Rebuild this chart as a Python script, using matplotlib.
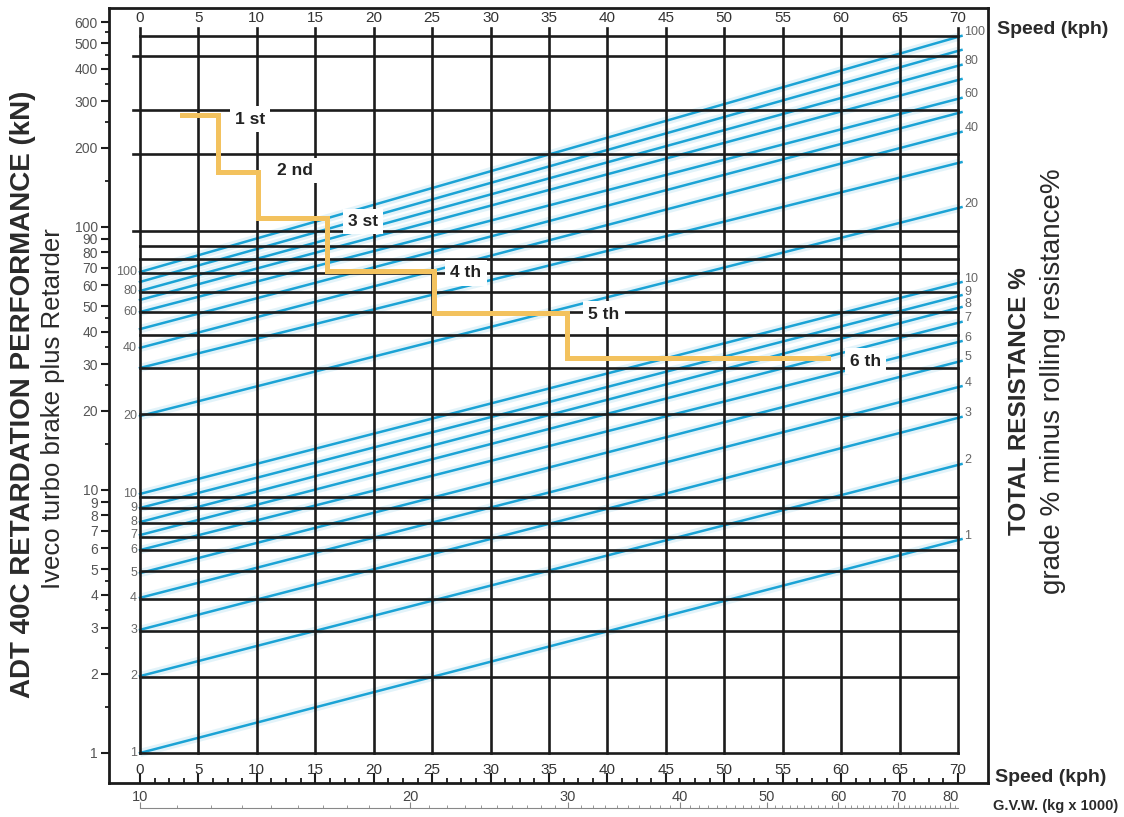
import numpy as np
import matplotlib.pyplot as plt
import matplotlib.transforms as mtransforms
from matplotlib.ticker import FixedLocator, NullFormatter

NARROW = ["Liberation Sans Narrow", "Liberation Sans", "DejaVu Sans"]
plt.rcParams["font.family"] = ["Liberation Sans", "DejaVu Sans"]

W, H = 1124, 817

# ---- data ----
speed_ticks = list(range(0, 75, 5))
kn_major = [1, 2, 3, 4, 5, 6, 7, 8, 9, 10, 20, 30, 40, 50, 60, 70, 80, 90, 100,
            200, 300, 400, 500, 600]
kn_minor = [1.5, 2.5, 3.5, 4.5, 15, 25, 35, 45, 150, 250, 350, 450, 550]

# black horizontal reference lines (kN)
grid_levels = [534, 448, 278, 190, 96.5, 85, 75.5, 67, 56.5, 47.5, 39, 29, 19.5,
               9.4, 8.55, 7.5, 6.65, 5.9, 4.9, 3.85, 2.9, 1.95, 1.0]
grid_stub_levels = [448, 278, 190, 96.5]

# total resistance lines: value at 0 kph and at 70 kph (kN scale)
resist_pct = [1, 2, 3, 4, 5, 6, 7, 8, 9, 10, 20, 30, 40, 50, 60, 70, 80, 90, 100]
resist_start = [1.0, 1.96, 2.94, 3.89, 4.83, 5.91, 6.74, 7.55, 8.54, 9.66,
                19.1, 29.1, 34.7, 40.9, 47.5, 52.8, 57.1, 61.8, 67.4]
resist_end = [6.45, 12.45, 18.8, 24.6, 30.7, 36.5, 43.2, 49.2, 54.6, 61.2,
              118, 175, 228, 271, 307, 362, 410, 467, 528]
resist_labeled = [1, 2, 3, 4, 5, 6, 7, 8, 9, 10, 20, 40, 60, 80, 100]

# gear steps
gear_names = ["1 st", "2 nd", "3 st", "4 th", "5 th", "6 th"]
gear_from = [3.6, 6.67, 10.1, 16.0, 25.2, 36.5]
gear_to = [6.67, 10.1, 16.0, 25.2, 36.5, 58.9]
gear_force = [266, 162, 108, 68, 47.1, 31.8]
gear_label_x = [9.4, 13.3, 19.1, 27.9, 39.7, 62.1]
gear_label_y = [257, 164, 105, 66.9, 46.6, 30.9]

gvw_ticks = [10, 20, 30, 40, 50, 60, 70, 80]

BLUE = "#1ba3d5"
GOLD = "#f3c25e"
DARK = "#1c1c1c"
TXT = "#2a2a2a"


def fx(px):
    return px / W


def fy(py):
    return 1 - py / H


fig = plt.figure(figsize=(W / 100, H / 100), dpi=100)
fig.patch.set_facecolor("white")

# main frame axes (outer box); data x = kph, y = kN on log scale
ax = fig.add_axes([fx(109), fy(783), fx(988) - fx(109), fy(8) - fy(783)])
ax.set_yscale("log")
ax.set_xlim(-2.653, 72.567)
ax.set_ylim(0.769, 680)

for s in ax.spines.values():
    s.set_color(DARK)
    s.set_linewidth(2)

# resistance lines with soft halo
for v0, v1 in zip(resist_start, resist_end):
    ax.plot([0, 70], [v0, v1], color=BLUE, lw=6, alpha=0.12,
            solid_capstyle="butt", zorder=2)
    ax.plot([0, 70.3], [v0, v1 * (v1 / v0) ** (0.3 / 70)], color=BLUE, lw=1.8,
            zorder=2.5)

# grid
for sp in speed_ticks:
    ax.plot([sp, sp], [1.0, 571], color=DARK, lw=1.9, zorder=3)
for lv in grid_levels:
    x0 = -0.6 if lv in grid_stub_levels else 0
    ax.plot([x0, 70], [lv, lv], color=DARK, lw=1.9, zorder=3)

# gear step curve
xs, ys = [], []
for a, b, f in zip(gear_from, gear_to, gear_force):
    xs += [a, b]
    ys += [f, f]
ax.plot(xs, ys, color=GOLD, lw=3.6, solid_joinstyle="miter", zorder=4)

for name, lx, ly in zip(gear_names, gear_label_x, gear_label_y):
    ax.text(lx, ly, name, ha="center", va="center", fontsize=12.5,
            color="#222222", family=NARROW, fontweight="bold", zorder=5,
            bbox=dict(boxstyle="square,pad=0.3", fc="white", ec="none"))

# inner resistance labels
for p, v0, v1 in zip(resist_pct, resist_start, resist_end):
    if p not in resist_labeled:
        continue
    ax.text(-0.25, v0, str(p), ha="right", va="center", fontsize=9,
            color="#666666", family=NARROW, zorder=5)
    ax.text(70.55, v1 * 1.04, str(p), ha="left", va="center", fontsize=9,
            color="#666666", family=NARROW, zorder=5)

# speed labels top and bottom
for sp in speed_ticks:
    ax.text(sp, 623, str(sp), ha="center", va="center", fontsize=11,
            color="#333333", zorder=5)
    ax.text(sp, 0.862, str(sp), ha="center", va="center", fontsize=11,
            color="#333333", zorder=5)

# ticks
ax.yaxis.set_major_locator(FixedLocator(kn_major))
ax.yaxis.set_minor_locator(FixedLocator(kn_minor))
ax.set_yticklabels([str(v) for v in kn_major])
ax.yaxis.set_minor_formatter(NullFormatter())
ax.tick_params(axis="y", which="major", left=True, right=False, direction="out",
               length=6, width=1.5, color=DARK, labelsize=10,
               labelcolor="#555555", pad=2)
ax.tick_params(axis="y", which="minor", left=True, right=False, direction="out",
               length=3, width=1.3, color=DARK)
ax.xaxis.set_major_locator(FixedLocator(speed_ticks))
ax.xaxis.set_minor_locator(FixedLocator(np.arange(0, 70.01, 1.25)))
ax.xaxis.set_major_formatter(NullFormatter())
ax.tick_params(axis="x", which="major", bottom=True, top=False, direction="in",
               length=7, width=1.5, color=DARK)
ax.tick_params(axis="x", which="minor", bottom=True, top=False, direction="in",
               length=3.5, width=1.3, color=DARK)

# G.V.W. log scale under the frame
ax2 = fig.add_axes([fx(140), fy(808), fx(958) - fx(140), fy(793) - fy(808)])
ax2.set_xscale("log")
ax2.set_xlim(10, 81.6)
ax2.set_ylim(0, 1)
for side in ["top", "left", "right"]:
    ax2.spines[side].set_visible(False)
ax2.spines["bottom"].set_color("#888888")
ax2.spines["bottom"].set_linewidth(0.8)
ax2.set_yticks([])
ax2.xaxis.set_major_locator(FixedLocator(gvw_ticks))
ax2.xaxis.set_minor_locator(FixedLocator([v for v in range(11, 82) if v % 10]))
ax2.xaxis.set_major_formatter(NullFormatter())
ax2.xaxis.set_minor_formatter(NullFormatter())
ax2.tick_params(axis="x", which="major", direction="in", length=4, width=0.8,
                color="#888888")
ax2.tick_params(axis="x", which="minor", direction="in", length=2, width=0.6,
                color="#888888")
trans = mtransforms.blended_transform_factory(ax2.transData, ax2.transAxes)
for g in gvw_ticks:
    ax2.text(g, 0.75, str(g), transform=trans, ha="center", va="center",
             fontsize=10.5, color="#444444")
ax2.patch.set_alpha(0)

# titles
fig.text(fx(23), fy(394), "ADT 40C RETARDATION PERFORMANCE (kN)", rotation=90,
         ha="center", va="center", fontsize=20, fontweight="bold",
         family=NARROW, color=TXT)
fig.text(fx(53), fy(409), "Iveco turbo brake plus Retarder", rotation=90,
         ha="center", va="center", fontsize=18.5, family=NARROW, color=TXT)
fig.text(fx(1019), fy(401), "TOTAL RESISTANCE %", rotation=90,
         ha="center", va="center", fontsize=17.5, fontweight="bold",
         family=NARROW, color=TXT)
fig.text(fx(1053), fy(381), "grade % minus rolling resistance%", rotation=90,
         ha="center", va="center", fontsize=20, family=NARROW, color=TXT)
fig.text(fx(997), fy(30), "Speed (kph)", ha="left", va="center", fontsize=14,
         family=NARROW, fontweight="bold", color=TXT)
fig.text(fx(995), fy(778), "Speed (kph)", ha="left", va="center", fontsize=14,
         family=NARROW, fontweight="bold", color=TXT)
fig.text(fx(993), fy(806), "G.V.W. (kg x 1000)", ha="left", va="center",
         fontsize=10.5, family=NARROW, fontweight="bold", color=TXT)

fig.savefig("out.png", dpi=100)
